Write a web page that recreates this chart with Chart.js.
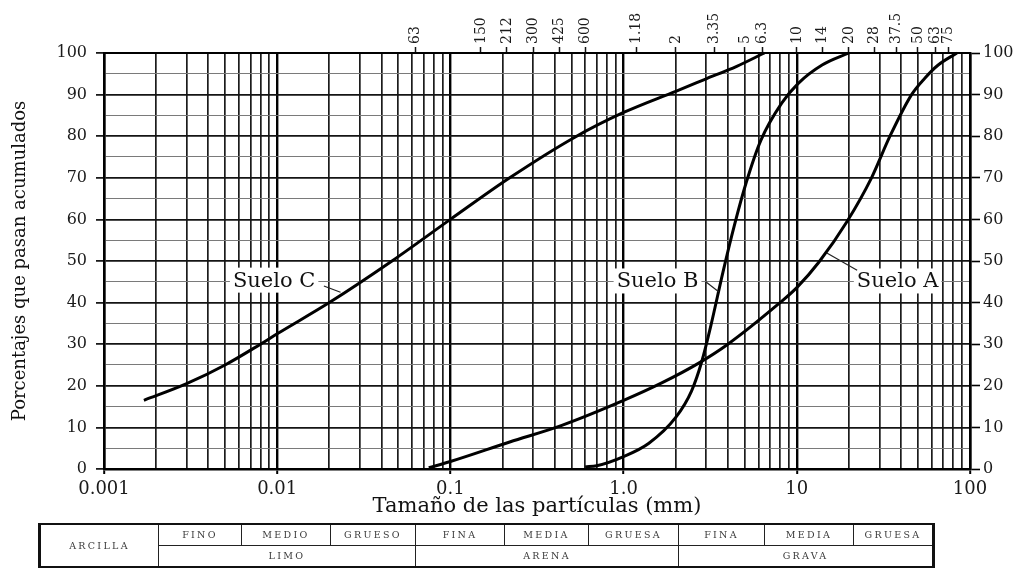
<!DOCTYPE html>
<html lang="es">
<head>
<meta charset="utf-8">
<title>Curvas granulométricas</title>
<script src="https://cdn.jsdelivr.net/npm/chart.js@4/dist/chart.umd.min.js"></script>
<style>
  html, body { margin: 0; padding: 0; background: #fff; }
  #wrap { position: relative; width: 1021px; height: 568px; overflow: hidden; }
  #chart { position: absolute; left: 0; top: 0; }
  table.clases {
    position: absolute; left: 38px; top: 523px; width: 894px; height: 43px;
    border-collapse: collapse; table-layout: fixed;
    font-family: "DejaVu Serif", serif; font-size: 9.5px; letter-spacing: 2.3px;
    color: #3a3a3a; text-align: center;
    border-top: 2px solid #111; border-bottom: 2px solid #111;
    border-left: 3.5px solid #111; border-right: 3px solid #111;
  }
  table.clases td { border: 1.5px solid #222; padding: 0; line-height: 1; height: 20px; }
</style>
</head>
<body>
<div id="wrap">
  <canvas id="chart" width="1021" height="568"></canvas>
  <table class="clases">
    <colgroup>
      <col style="width:119px"><col style="width:83px"><col style="width:89px"><col style="width:85px">
      <col style="width:89px"><col style="width:84px"><col style="width:90px">
      <col style="width:86px"><col style="width:89px"><col style="width:80px">
    </colgroup>
    <tr>
      <td rowspan="2">ARCILLA</td>
      <td>FINO</td><td>MEDIO</td><td>GRUESO</td>
      <td>FINA</td><td>MEDIA</td><td>GRUESA</td>
      <td>FINA</td><td>MEDIA</td><td>GRUESA</td>
    </tr>
    <tr>
      <td colspan="3">LIMO</td><td colspan="3">ARENA</td><td colspan="3">GRAVA</td>
    </tr>
  </table>
</div>
<script>
// Eje de tamaños (mm): décadas rotuladas abajo, tamices arriba
const decadeValues = [0.001, 0.01, 0.1, 1, 10, 100];
const decadeLabels = ['0.001', '0.01', '0.1', '1.0', '10', '100'];
const sieveSizes  = [0.063, 0.15, 0.212, 0.3, 0.425, 0.6, 1.18, 2, 3.35, 5, 6.3, 10, 14, 20, 28, 37.5, 50, 63, 75];
const sieveLabels = ['63', '150', '212', '300', '425', '600', '1.18', '2', '3.35', '5', '6.3', '10', '14', '20', '28', '37.5', '50', '63', '75'];
const percentTicks = [0, 10, 20, 30, 40, 50, 60, 70, 80, 90, 100];

// Curvas granulométricas: tamaño (mm) y porcentaje que pasa
const sueloA_tamano = [0.075, 0.1, 0.22, 0.44, 1.0, 1.66, 2.7, 4.0, 7.9, 10, 13.4, 19.5, 27, 34.5, 46, 55, 65, 84];
const sueloA_pasa   = [0.3, 1.8, 6.5, 10.5, 16.5, 20.7, 25.4, 30, 39.8, 43.6, 49.7, 59.5, 70, 80, 90, 94, 97, 100];

const sueloB_tamano = [0.6, 0.7, 1.0, 1.4, 2.0, 2.47, 2.83, 3.2, 3.75, 4.35, 5.1, 6.2, 8.2, 10.2, 14, 20];
const sueloB_pasa   = [0.5, 0.8, 3, 6.2, 12.4, 18.8, 25.9, 34.7, 47.4, 58.4, 68.8, 79, 88, 92.7, 97.1, 100];

const sueloC_tamano = [0.0017, 0.003, 0.005, 0.008, 0.01, 0.02, 0.046, 0.1, 0.22, 0.52, 1.0, 2.0, 3.0, 4.5, 6.5];
const sueloC_pasa   = [16.5, 20.5, 25, 30, 32.5, 40, 50, 60, 70, 79.7, 85.7, 90.8, 93.8, 96.8, 100];

// Retícula logarítmica (1..9 por década) y horizontales cada 5 %
const gridSizes = [];
decadeValues.slice(0, -1).forEach(d => {
  for (let m = 1; m < 10; m++) gridSizes.push(Number((m * d).toPrecision(3)));
});
gridSizes.push(100);
const percentGrid = [];
for (let p = 0; p <= 100; p += 5) percentGrid.push(p);

const isDecade = v => decadeValues.some(d => Math.abs(v - d) / d < 1e-6);
const decadeLabel = v => {
  const i = decadeValues.findIndex(d => Math.abs(v - d) / d < 1e-6);
  return i >= 0 ? decadeLabels[i] : '';
};

// Rótulos de las curvas con línea de referencia (coordenadas en unidades de datos)
const curveNotes = [
  { text: 'Suelo A', at: [38.2, 45.2], from: [22.3, 47.8], to: [14.9, 51.9] },
  { text: 'Suelo B', at: [1.57, 45.2], from: [2.98, 45.0], to: [3.54, 42.6] },
  { text: 'Suelo C', at: [0.0096, 45.4], from: [0.0186, 44.0], to: [0.0232, 42.5] }
];

const curveNotesPlugin = {
  id: 'curveNotes',
  afterDatasetsDraw(chart) {
    const { ctx, scales: { x, y } } = chart;
    ctx.save();
    ctx.font = '21px "DejaVu Serif", serif';
    ctx.textAlign = 'center';
    ctx.textBaseline = 'middle';
    curveNotes.forEach(n => {
      const cx = x.getPixelForValue(n.at[0]);
      const cy = y.getPixelForValue(n.at[1]);
      const w = ctx.measureText(n.text).width + 6;
      const h = 25;
      ctx.fillStyle = '#fff';
      ctx.fillRect(cx - w / 2, cy - h / 2, w, h);
      ctx.strokeStyle = '#222';
      ctx.lineWidth = 1.2;
      ctx.beginPath();
      ctx.moveTo(x.getPixelForValue(n.from[0]), y.getPixelForValue(n.from[1]));
      ctx.lineTo(x.getPixelForValue(n.to[0]), y.getPixelForValue(n.to[1]));
      ctx.stroke();
      ctx.fillStyle = '#111';
      ctx.fillText(n.text, cx, cy + 1);
    });
    ctx.restore();
  }
};

const toPoints = (xs, ys) => xs.map((v, i) => ({ x: v, y: ys[i] }));
const curveStyle = {
  showLine: true, borderColor: '#000', borderWidth: 3, pointRadius: 0,
  cubicInterpolationMode: 'monotone', clip: 6, xAxisID: 'x', yAxisID: 'y'
};

Chart.defaults.font.family = '"DejaVu Serif", serif';
Chart.defaults.color = '#1a1a1a';

new Chart(document.getElementById('chart'), {
  type: 'scatter',
  data: {
    datasets: [
      { label: 'Suelo A', data: toPoints(sueloA_tamano, sueloA_pasa), ...curveStyle },
      { label: 'Suelo B', data: toPoints(sueloB_tamano, sueloB_pasa), ...curveStyle },
      { label: 'Suelo C', data: toPoints(sueloC_tamano, sueloC_pasa), ...curveStyle }
    ]
  },
  options: {
    responsive: false,
    animation: false,
    devicePixelRatio: 1,
    layout: { padding: { top: 0, left: 0, right: 0, bottom: 43 } },
    plugins: { legend: { display: false }, tooltip: { enabled: false } },
    scales: {
      x: {
        type: 'logarithmic', position: 'bottom', min: 0.001, max: 100,
        afterBuildTicks: s => { s.ticks = gridSizes.map(v => ({ value: v })); },
        afterFit: s => { s.height = 56; },
        ticks: { autoSkip: false, maxRotation: 0, minRotation: 0, padding: 5, font: { size: 18 }, callback: v => decadeLabel(v) },
        grid: {
          color: c => (c.tick && isDecade(c.tick.value)) ? '#000' : '#1c1c1c',
          lineWidth: c => (c.tick && isDecade(c.tick.value)) ? 2.4 : 1.7,
          tickLength: 5,
          tickColor: c => (c.tick && isDecade(c.tick.value)) ? '#000' : 'rgba(0,0,0,0)',
          tickWidth: 2
        },
        border: { display: true, color: '#000', width: 2.5 },
        title: { display: true, text: 'Tamaño de las partículas (mm)', font: { size: 21 }, color: '#111', padding: { top: 0, bottom: 6 } }
      },
      x2: {
        type: 'logarithmic', position: 'top', min: 0.001, max: 100,
        afterBuildTicks: s => { s.ticks = sieveSizes.map(v => ({ value: v })); },
        afterFit: s => { s.height = 53; },
        ticks: { autoSkip: false, minRotation: 90, maxRotation: 90, padding: 3, labelOffset: 17, font: { size: 14 }, callback: (v, i) => sieveLabels[i] },
        grid: { drawOnChartArea: false, tickLength: 6, tickColor: '#111', tickWidth: 1.5 },
        border: { display: true, color: '#000', width: 2 }
      },
      y: {
        type: 'linear', position: 'left', min: 0, max: 100,
        afterBuildTicks: s => { s.ticks = percentGrid.map(v => ({ value: v })); },
        afterFit: s => { s.width = 104; },
        ticks: { autoSkip: false, padding: 9, font: { size: 16 }, callback: v => (v % 10 === 0 ? String(v) : '') },
        grid: {
          color: c => (c.tick && c.tick.value % 10 === 0) ? '#141414' : '#7a7a7a',
          lineWidth: c => (c.tick && c.tick.value % 10 === 0) ? 1.8 : 1.1,
          tickLength: 8,
          tickColor: c => (c.tick && c.tick.value % 10 === 0) ? '#000' : 'rgba(0,0,0,0)',
          tickWidth: 1.6
        },
        border: { display: true, color: '#000', width: 2.5 },
        title: { display: true, text: 'Porcentajes que pasan acumulados', font: { size: 18 }, color: '#111', padding: { top: 10, bottom: 0 } }
      },
      y2: {
        type: 'linear', position: 'right', min: 0, max: 100,
        afterBuildTicks: s => { s.ticks = percentTicks.map(v => ({ value: v })); },
        afterFit: s => { s.width = 51; },
        ticks: { autoSkip: false, padding: 3, font: { size: 16 } },
        grid: { drawOnChartArea: false, tickLength: 10, tickColor: '#000', tickWidth: 1.6 },
        border: { display: true, color: '#000', width: 2.5 }
      }
    }
  },
  plugins: [curveNotesPlugin]
});
</script>
</body>
</html>
